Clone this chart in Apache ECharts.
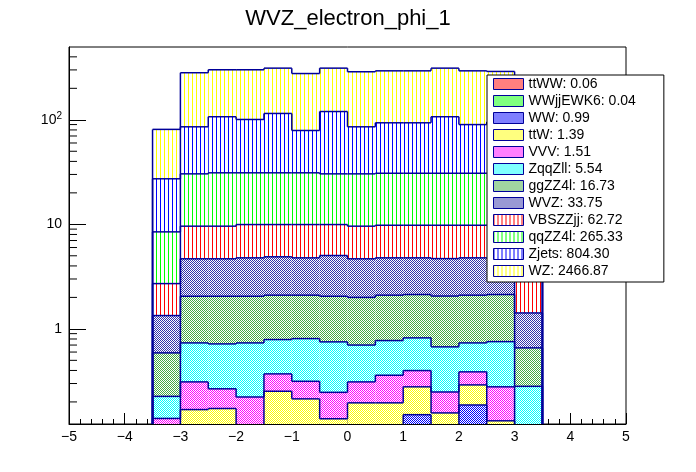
<!DOCTYPE html>
<html>
<head>
<meta charset="utf-8">
<title>WVZ_electron_phi_1</title>
<script src="https://cdn.jsdelivr.net/npm/echarts@6/dist/echarts.min.js"></script>
<style>
html, body { margin: 0; padding: 0; background: #fff; }
#chart { width: 696px; height: 472px; }
</style>
</head>
<body>
<div id="chart"></div>
<script>
// bins of phi, low edges, width 0.5
var binLow = [-3.5, -3, -2.5, -2, -1.5, -1, -0.5, 0, 0.5, 1, 1.5, 2, 2.5, 3];
var binWidth = 0.5;

// processes, bottom of the stack first
var processNames = ['ttWW', 'WWjjEWK6', 'WW', 'ttW', 'VVV', 'ZqqZll', 'ggZZ4l', 'WVZ', 'VBSZZjj', 'qqZZ4l', 'Zjets', 'WZ'];
var legendTotals = ['0.06', '0.04', '0.99', '1.39', '1.51', '5.54', '16.73', '33.75', '62.72', '265.33', '804.30', '2466.87'];

var ttWW     = [0, 0.004, 0.003, 0.004, 0.005, 0.004, 0.004, 0.003, 0.004, 0.005, 0.004, 0.004, 0.004, 0];
var WWjjEWK6 = [0, 0.003, 0.002, 0.003, 0.003, 0.003, 0.002, 0.003, 0.003, 0.003, 0.003, 0.003, 0.002, 0];
var WW       = [0, 0.02, 0.03, 0.02, 0.04, 0.05, 0.03, 0.04, 0.02, 0.143, 0.03, 0.18, 0.02, 0];
var ttW      = [0.05, 0.142, 0.138, 0.06, 0.205, 0.157, 0.102, 0.15, 0.169, 0.128, 0.12, 0.104, 0.106, 0.04];
var VVV      = [0.089, 0.142, 0.094, 0.136, 0.118, 0.101, 0.109, 0.115, 0.164, 0.12, 0.092, 0.097, 0.147, 0.05];
var ZqqZll   = [0.087, 0.423, 0.451, 0.511, 0.419, 0.492, 0.504, 0.389, 0.413, 0.421, 0.424, 0.346, 0.476, 0.192];
var ggZZ4l   = [0.363, 1.316, 1.332, 1.316, 1.31, 1.293, 1.299, 1.30, 1.327, 1.31, 1.387, 1.366, 1.375, 0.376];
var WVZ      = [0.751, 2.63, 2.63, 2.73, 2.79, 2.68, 2.98, 2.68, 2.68, 2.65, 2.64, 2.68, 2.67, 0.762];
var VBSZZjj  = [1.37, 4.92, 4.92, 5.17, 5.06, 5.17, 4.92, 4.92, 5.02, 5.02, 5.1, 5.02, 5.0, 1.48];
var qqZZ4l   = [5.76, 20.8, 21.5, 21.15, 21.15, 21.15, 20.45, 20.8, 21.0, 21.0, 21.0, 21.0, 21.0, 5.6];
var Zjets    = [18.8, 55.3, 75.9, 69.6, 83.9, 47.9, 89.6, 55.3, 62.8, 62.8, 76.2, 59.2, 64.2, 18.5];
var WZ       = [53.7, 196.3, 194, 200.3, 197, 198, 192, 202.3, 200.4, 200.4, 205, 204, 195, 53];

var xTicks = [-5, -4, -3, -2, -1, 0, 1, 2, 3, 4, 5];
var yMinorTicks = [0.2, 0.3, 0.4, 0.5, 0.6, 0.7, 0.8, 0.9, 2, 3, 4, 5, 6, 7, 8, 9,
                   20, 30, 40, 50, 60, 70, 80, 90, 200, 300, 400];

var layers = [ttWW, WWjjEWK6, WW, ttW, VVV, ZqqZll, ggZZ4l, WVZ, VBSZZjj, qqZZ4l, Zjets, WZ];
var yMin = 0.123, yMax = 497;
var lineColor = '#000099';
var fontName = 'Liberation Sans, Arial, sans-serif';

// ROOT like fill patterns
function hatch(color) {
    var c = document.createElement('canvas');
    c.width = 4; c.height = 4;
    var g = c.getContext('2d');
    g.fillStyle = '#fff'; g.fillRect(0, 0, 4, 4);
    g.fillStyle = color; g.fillRect(0, 0, 1, 4);
    return { image: c, repeat: 'repeat' };
}
function checker(color) {
    var c = document.createElement('canvas');
    c.width = 2; c.height = 2;
    var g = c.getContext('2d');
    g.fillStyle = '#fff'; g.fillRect(0, 0, 2, 2);
    g.fillStyle = color; g.fillRect(0, 0, 1, 1); g.fillRect(1, 1, 1, 1);
    return { image: c, repeat: 'repeat' };
}
var fills = [
    checker('#ff0000'), checker('#00ff00'), checker('#0000ff'), checker('#ffff00'),
    checker('#ff00ff'), checker('#00ffff'), checker('#44aa44'), checker('#3333aa'),
    hatch('#ff0000'), hatch('#00ff00'), hatch('#0000ff'), hatch('#ffff00')
];

// stacked lows / highs
var stackLo = [], stackHi = [];
var run = binLow.map(function () { return 0; });
for (var k = 0; k < layers.length; k++) {
    stackLo.push(run.slice());
    run = run.map(function (r, i) { return r + layers[k][i]; });
    stackHi.push(run.slice());
}

function makeRender(k) {
    return function (params, api) {
        var i = params.dataIndex;
        var cs = params.coordSys;
        var bottom = cs.y + cs.height;
        var x0 = api.value(0), x1 = api.value(1);
        function py(v) {
            var p = api.coord([x0, Math.max(v, 1e-6)])[1];
            return Math.min(Math.max(p, cs.y), bottom);
        }
        var px0 = api.coord([x0, 1])[0], px1 = api.coord([x1, 1])[0];
        var yLo = py(stackLo[k][i]), yHi = py(stackHi[k][i]);
        var yPrev = i > 0 ? py(stackHi[k][i - 1]) : bottom;
        var children = [];
        if (yLo - yHi > 0) {
            children.push({ type: 'rect', z2: 0,
                shape: { x: px0, y: yHi, width: px1 - px0, height: yLo - yHi },
                style: { fill: fills[k] } });
        }
        var ls = { stroke: lineColor, lineWidth: 1.5, fill: null };
        if (!(yPrev >= bottom && yHi >= bottom)) {
            children.push({ type: 'line', z2: 10, shape: { x1: px0, y1: yPrev, x2: px0, y2: yHi }, style: ls });
        }
        if (yHi < bottom) {
            children.push({ type: 'line', z2: 10, shape: { x1: px0, y1: yHi, x2: px1, y2: yHi }, style: ls });
            if (i === binLow.length - 1) {
                children.push({ type: 'line', z2: 10, shape: { x1: px1, y1: yHi, x2: px1, y2: bottom }, style: ls });
            }
        }
        return { type: 'group', children: children };
    };
}

var series = [];
var legendNames = [];
for (var k = 0; k < layers.length; k++) {
    var name = processNames[k] + ': ' + legendTotals[k];
    legendNames.push(name);
    series.push({
        type: 'custom',
        name: name,
        silent: true,
        renderItem: makeRender(k),
        itemStyle: { color: fills[k], borderColor: lineColor, borderWidth: 1 },
        encode: { x: [0, 1], y: [2, 3] },
        data: binLow.map(function (x, i) {
            return [x, x + binWidth, Math.max(stackLo[k][i], 1e-3), Math.max(stackHi[k][i], 1e-3)];
        })
    });
}
// minor ticks of the log axis (2..9 per decade)
series.push({
    type: 'custom',
    name: 'yminor',
    silent: true,
    encode: { x: 0, y: 1 },
    renderItem: function (params, api) {
        var p = api.coord([api.value(0), api.value(1)]);
        return { type: 'line', shape: { x1: p[0], y1: p[1], x2: p[0] + 8, y2: p[1] },
                 style: { stroke: '#000', lineWidth: 1 } };
    },
    data: yMinorTicks.map(function (v) { return [xTicks[0], v]; })
});

var myChart = echarts.init(document.getElementById('chart'));
var option = {
    animation: false,
    backgroundColor: '#fff',
    title: {
        text: 'WVZ_electron_phi_1',
        left: 'center',
        top: 3,
        textStyle: { fontFamily: fontName, fontSize: 22, fontWeight: 'normal', color: '#000' }
    },
    legend: {
        data: legendNames,
        orient: 'vertical',
        left: 487,
        top: 75,
        padding: [2, 28, 4, 6],
        itemGap: 3,
        itemWidth: 30,
        itemHeight: 11,
        icon: 'rect',
        selectedMode: false,
        backgroundColor: '#fff',
        borderColor: '#000',
        borderWidth: 1,
        borderRadius: 0,
        itemStyle: { borderColor: lineColor, borderWidth: 1 },
        textStyle: { fontFamily: fontName, fontSize: 14, color: '#000' }
    },
    grid: {
        left: 69, right: 70, top: 47, bottom: 48,
        show: true, borderColor: '#000', borderWidth: 1,
        outerBoundsMode: 'none'
    },
    xAxis: {
        type: 'value',
        min: xTicks[0],
        max: xTicks[xTicks.length - 1],
        interval: 1,
        axisLine: { show: true, onZero: false, lineStyle: { color: '#000', width: 1 } },
        axisTick: { show: true, inside: true, length: 11, lineStyle: { color: '#000' } },
        minorTick: { show: true, splitNumber: 5, length: 5, lineStyle: { color: '#000' } },
        splitLine: { show: false },
        axisLabel: {
            margin: 6,
            fontFamily: fontName, fontSize: 14, color: '#000',
            formatter: function (v) { return String(v).replace('-', '\u2212'); }
        }
    },
    yAxis: {
        type: 'log',
        logBase: 10,
        min: yMin,
        max: yMax,
        axisLine: { show: true, onZero: false, lineStyle: { color: '#000', width: 1 } },
        axisTick: { show: true, inside: true, length: 17, lineStyle: { color: '#000' } },
        splitLine: { show: false },
        axisLabel: {
            margin: 7,
            showMinLabel: false,
            showMaxLabel: false,
            fontFamily: fontName, fontSize: 14, color: '#000',
            formatter: function (v) {
                var e = Math.round(Math.log(v) / Math.LN10);
                if (e === 2) return '10{sup|2}';
                return String(Math.pow(10, e));
            },
            rich: {
                sup: { fontFamily: fontName, fontSize: 10, color: '#000', padding: [0, 0, 8, 0] }
            }
        }
    },
    series: series
};
myChart.setOption(option);
</script>
</body>
</html>
